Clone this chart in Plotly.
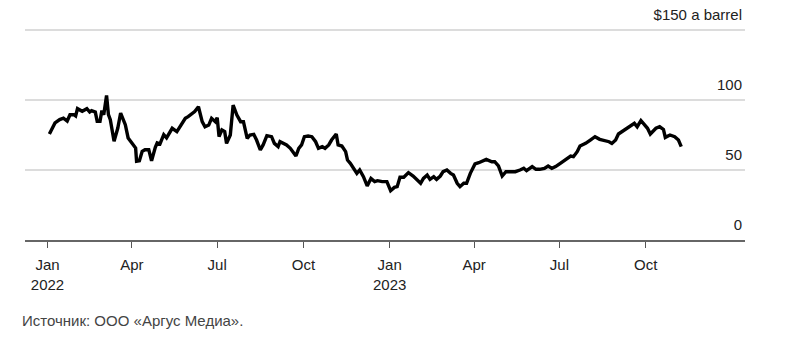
import plotly.graph_objects as go

# Weekly-ish price readings, USD per barrel
dates = [
    "2022-01-03", "2022-01-06", "2022-01-09", "2022-01-14", "2022-01-18", "2022-01-22",
    "2022-01-25", "2022-01-29", "2022-01-31", "2022-02-02", "2022-02-07", "2022-02-12",
    "2022-02-15", "2022-02-17", "2022-02-21", "2022-02-23", "2022-02-26", "2022-02-28",
    "2022-03-02", "2022-03-05", "2022-03-07", "2022-03-09", "2022-03-13", "2022-03-17",
    "2022-03-20", "2022-03-25", "2022-03-28", "2022-04-01", "2022-04-05", "2022-04-06",
    "2022-04-09", "2022-04-12", "2022-04-15", "2022-04-19", "2022-04-22", "2022-04-26",
    "2022-04-28", "2022-05-01", "2022-05-05", "2022-05-08", "2022-05-11", "2022-05-14",
    "2022-05-19", "2022-05-22", "2022-05-28", "2022-05-31", "2022-06-04", "2022-06-07",
    "2022-06-11", "2022-06-13", "2022-06-15", "2022-06-18", "2022-06-22", "2022-06-25",
    "2022-06-29", "2022-07-01", "2022-07-03", "2022-07-06", "2022-07-09", "2022-07-11",
    "2022-07-15", "2022-07-18", "2022-07-22", "2022-07-26", "2022-07-29", "2022-08-02",
    "2022-08-05", "2022-08-09", "2022-08-12", "2022-08-16", "2022-08-19", "2022-08-23",
    "2022-08-28", "2022-08-31", "2022-09-04", "2022-09-06", "2022-09-10", "2022-09-13",
    "2022-09-17", "2022-09-20", "2022-09-23", "2022-09-26", "2022-09-29", "2022-10-02",
    "2022-10-06", "2022-10-10", "2022-10-14", "2022-10-17", "2022-10-21", "2022-10-24",
    "2022-10-28", "2022-10-31", "2022-11-05", "2022-11-07", "2022-11-11", "2022-11-15",
    "2022-11-17", "2022-11-20", "2022-11-23", "2022-11-27", "2022-11-30", "2022-12-04",
    "2022-12-08", "2022-12-12", "2022-12-16", "2022-12-19", "2022-12-24", "2022-12-29",
    "2023-01-02", "2023-01-06", "2023-01-09", "2023-01-12", "2023-01-16", "2023-01-21",
    "2023-01-26", "2023-01-30", "2023-02-03", "2023-02-06", "2023-02-10", "2023-02-13",
    "2023-02-17", "2023-02-20", "2023-02-24", "2023-02-27", "2023-03-03", "2023-03-07",
    "2023-03-10", "2023-03-14", "2023-03-17", "2023-03-21", "2023-03-24", "2023-03-28",
    "2023-04-02", "2023-04-06", "2023-04-11", "2023-04-14", "2023-04-20", "2023-04-23",
    "2023-04-27", "2023-05-01", "2023-05-05", "2023-05-10", "2023-05-15", "2023-05-20",
    "2023-05-24", "2023-05-27", "2023-06-02", "2023-06-06", "2023-06-10", "2023-06-15",
    "2023-06-19", "2023-06-23", "2023-06-27", "2023-07-02", "2023-07-07", "2023-07-13",
    "2023-07-16", "2023-07-20", "2023-07-23", "2023-07-29", "2023-08-03", "2023-08-08",
    "2023-08-13", "2023-08-17", "2023-08-23", "2023-08-26", "2023-08-30", "2023-09-02",
    "2023-09-07", "2023-09-11", "2023-09-15", "2023-09-19", "2023-09-22", "2023-09-26",
    "2023-09-29", "2023-10-03", "2023-10-06", "2023-10-09", "2023-10-12", "2023-10-16",
    "2023-10-20", "2023-10-22", "2023-10-27", "2023-11-01", "2023-11-05", "2023-11-08",
]

prices = [
    75.7, 79.5, 83.6, 86.0, 87.0, 85.0,
    89.5, 89.5, 88.6, 93.8, 91.9, 93.8,
    91.4, 92.4, 91.4, 84.8, 84.8, 92.4,
    89.5, 103.3, 89.5, 86.0, 70.5, 80.0,
    90.7, 82.4, 72.9, 69.3, 65.7, 56.2,
    56.6, 63.3, 64.5, 64.5, 56.6, 66.2,
    69.3, 68.6, 75.2, 72.9, 76.4, 79.8,
    77.4, 80.9, 86.9, 88.1, 90.5, 91.7,
    95.2, 90.5, 84.5, 80.9, 82.1, 86.9,
    84.5, 87.4, 73.8, 78.6, 77.4, 69.0,
    75.0, 96.4, 89.3, 84.5, 84.5, 72.6,
    75.0, 75.5, 71.4, 64.3, 67.9, 74.5,
    73.8, 69.0, 66.7, 70.2, 69.0, 67.9,
    65.5, 63.1, 60.0, 65.5, 67.9, 73.8,
    74.3, 73.8, 70.2, 65.5, 66.7, 65.5,
    67.9, 71.4, 75.7, 67.9, 67.1, 63.1,
    57.1, 54.8, 51.2, 47.6, 50.0, 45.2,
    38.6, 44.0, 41.7, 42.4, 41.7, 41.7,
    35.2, 37.6, 38.1, 44.8, 44.8, 48.1,
    45.7, 42.9, 40.5, 44.0, 46.4, 43.3,
    45.2, 43.3, 45.7, 48.8, 50.0, 47.6,
    46.4, 40.5, 38.1, 40.5, 40.5, 47.6,
    54.3, 55.2, 56.6, 57.6, 55.9, 55.9,
    52.9, 45.7, 48.8, 48.8, 48.8, 50.0,
    51.2, 49.5, 52.4, 50.5, 50.5, 51.2,
    52.9, 51.2, 52.4, 54.8, 57.1, 60.0,
    59.5, 63.1, 67.1, 69.0, 71.4, 73.8,
    71.9, 71.4, 70.2, 69.0, 71.4, 75.7,
    78.1, 79.8, 81.4, 83.3, 80.9, 85.2,
    82.9, 79.8, 75.7, 78.1, 79.8, 80.9,
    79.0, 73.3, 75.0, 73.8, 71.4, 66.7,
]

x_tick_vals = ["2022-01-01", "2022-04-01", "2022-07-01", "2022-10-01",
               "2023-01-01", "2023-04-01", "2023-07-01", "2023-10-01"]
x_tick_text = ["Jan<br>2022", "Apr", "Jul", "Oct", "Jan<br>2023", "Apr", "Jul", "Oct"]

y_tick_vals = [0, 50, 100, 150]
y_tick_text = ["0", "50", "100", "$150 a barrel"]

source_note = "Источник: ООО «Аргус Медиа»."

fig = go.Figure()
fig.add_trace(go.Scatter(
    x=dates, y=prices, mode="lines",
    line=dict(color="#000000", width=3.4),
    hoverinfo="skip", showlegend=False,
))

fig.update_layout(
    width=785, height=344,
    margin=dict(l=25, r=40, t=2, b=104),
    paper_bgcolor="#ffffff", plot_bgcolor="#ffffff",
    font=dict(family="Liberation Sans Narrow, Arial Narrow, Liberation Sans, Arial", size=15, color="#222222"),
    xaxis=dict(
        type="date",
        range=["2021-12-08", "2024-01-15"],
        tickmode="array", tickvals=x_tick_vals, ticktext=x_tick_text,
        ticks="outside", ticklen=6, tickwidth=1, tickcolor="#555555",
        showline=True, linecolor="#666666", linewidth=2,
        showgrid=False, zeroline=False,
        tickfont=dict(size=15, color="#222222"),
        ticklabelstandoff=4,
    ),
    yaxis=dict(
        range=[0, 170], side="right",
        tickmode="array", tickvals=y_tick_vals, ticktext=y_tick_text,
        ticklabelposition="inside top",
        ticks="", showgrid=True, gridcolor="#dcdcdc", gridwidth=1.5,
        zeroline=False, showline=False,
        tickfont=dict(family="Liberation Sans, Arial", size=15, color="#222222"),
        ticklabelshift=-5,
    ),
    annotations=[dict(
        text=source_note, xref="paper", yref="paper",
        x=-0.007, y=-0.338, xanchor="left", yanchor="middle",
        showarrow=False, font=dict(size=15, color="#444444"),
    )],
)

fig.write_html("out.html")
